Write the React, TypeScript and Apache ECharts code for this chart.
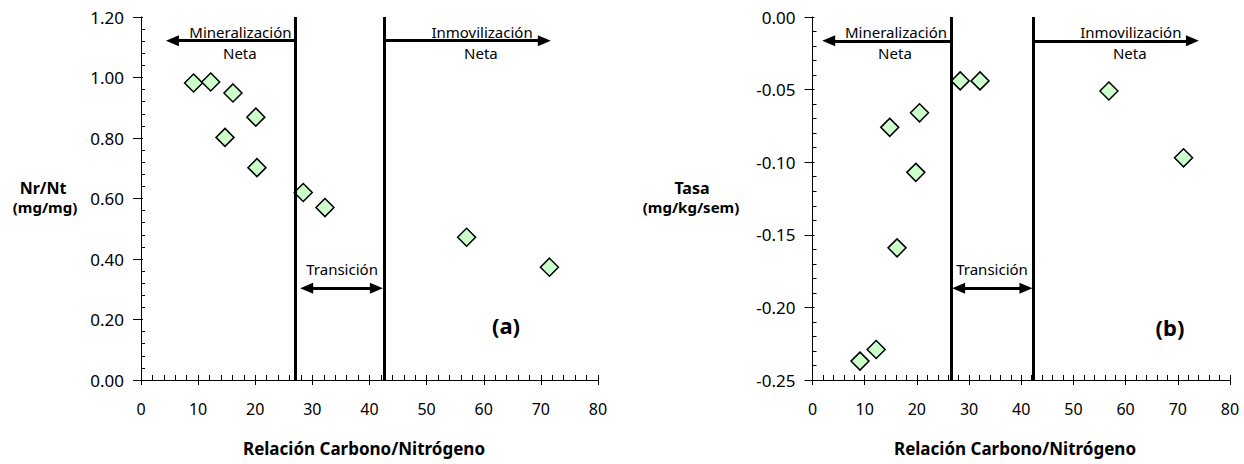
import React, { useEffect, useRef } from "react";
import * as echarts from "echarts";

// ---------- data ----------
const ratioA = [9.2, 12.2, 16.1, 20.1, 14.7, 20.3, 28.4, 32.2, 57.0, 71.5];
const nrNt = [0.982, 0.985, 0.949, 0.869, 0.802, 0.702, 0.62, 0.57, 0.472, 0.373];

const ratioB = [28.3, 32.1, 56.8, 20.5, 14.8, 19.8, 71.1, 16.2, 12.2, 9.1];
const tasa = [-0.044, -0.044, -0.051, -0.066, -0.076, -0.107, -0.097, -0.159, -0.229, -0.237];

const boundsA = [27, 42.5];
const boundsB = [26.5, 42.3];

const xRange = [0, 80, 10];
const yRangeA = [0, 1.2, 0.2];
const yRangeB = [-0.25, 0, 0.05];

// annotation texts: [text, x, y, fontSize, bold]
type Ann = [string, number, number, number, boolean];
const textsA: Ann[] = [
  ["Mineralización", 17.4, 1.151, 15, false],
  ["Neta", 17.3, 1.082, 15, false],
  ["Inmovilización", 59.7, 1.151, 15, false],
  ["Neta", 59.5, 1.082, 15, false],
  ["Transición", 35.2, 0.367, 15, false],
  ["(a)", 63.9, 0.182, 22, true],
];
const textsB: Ann[] = [
  ["Mineralización", 16.0, -0.0101, 15, false],
  ["Neta", 15.8, -0.0246, 15, false],
  ["Inmovilización", 61.0, -0.0101, 15, false],
  ["Neta", 60.8, -0.0246, 15, false],
  ["Transición", 34.4, -0.1737, 15, false],
  ["(b)", 68.5, -0.2136, 22, true],
];

// arrows: [x1, x2, y]
const arrowsA = { min: [5.5, 27, 1.1216], inm: [42.5, 70.6, 1.1216], tr: [29.0, 41.2, 0.303] };
const arrowsB = { min: [3.1, 26.5, -0.0164], inm: [42.3, 72.8, -0.0164], tr: [28.0, 40.9, -0.1868] };

const FONT = "'Noto Sans', 'Liberation Sans', sans-serif";

function xAxesFor(gridIndex: number) {
  const base = {
    type: "value" as const,
    gridIndex,
    min: xRange[0],
    max: xRange[1],
    interval: xRange[2],
    position: "bottom" as const,
    splitLine: { show: false },
  };
  return [
    {
      ...base,
      axisLine: { show: true, onZero: false, lineStyle: { color: "#000", width: 1 } },
      axisTick: { show: true, inside: false, length: 5, lineStyle: { color: "#000", width: 1 } },
      minorTick: { show: false },
      axisLabel: { color: "#000", fontFamily: FONT, fontSize: 16, margin: 21 },
    },
    {
      ...base,
      axisLine: { show: false, onZero: false },
      axisTick: { show: true, inside: true, length: 5, lineStyle: { color: "#000", width: 1 } },
      minorTick: { show: true, splitNumber: 5, length: 5, lineStyle: { color: "#000", width: 1 } },
      axisLabel: { show: false },
    },
  ];
}

function yAxesFor(gridIndex: number, r: number[]) {
  const base = {
    type: "value" as const,
    gridIndex,
    min: r[0],
    max: r[1],
    interval: r[2],
    position: "left" as const,
    splitLine: { show: false },
  };
  return [
    {
      ...base,
      axisLine: { show: true, onZero: false, lineStyle: { color: "#000", width: 1 } },
      axisTick: { show: true, inside: false, length: 8, lineStyle: { color: "#000", width: 1 } },
      minorTick: { show: false },
      axisLabel: {
        color: "#000",
        fontFamily: FONT,
        fontSize: 17,
        margin: 17,
        formatter: (v: number) => (Math.abs(v) < 1e-9 ? 0 : v).toFixed(2),
      },
    },
    {
      ...base,
      axisLine: { show: false, onZero: false },
      axisTick: { show: true, inside: true, length: 2, lineStyle: { color: "#000", width: 1 } },
      minorTick: { show: true, splitNumber: 5, length: 4, lineStyle: { color: "#000", width: 1 } },
      axisLabel: { show: false },
    },
  ];
}

const LINE = { color: "#000", width: 3, type: "solid" as const };
const HEAD: [number, number] = [11, 13];

function markLinesFor(bounds: number[], yr: number[], ar: any) {
  const v = (x: number) => [
    { coord: [x, yr[0]], symbol: "none", lineStyle: LINE },
    { coord: [x, yr[1]], symbol: "none" },
  ];
  const h = (a: number[], s1: string, s2: string) => [
    { coord: [a[0], a[2]], symbol: s1, symbolSize: HEAD, lineStyle: LINE },
    { coord: [a[1], a[2]], symbol: s2, symbolSize: HEAD },
  ];
  return {
    silent: true,
    animation: false,
    label: { show: false },
    lineStyle: LINE,
    data: [
      v(bounds[0]),
      v(bounds[1]),
      h(ar.min, "triangle", "none"),
      h(ar.inm, "none", "triangle"),
      h(ar.tr, "triangle", "triangle"),
    ],
  };
}

export default function App() {
  const ref = useRef<HTMLDivElement>(null);
  useEffect(() => {
    if (!ref.current) return;
    const chart = echarts.init(ref.current, undefined, { renderer: "svg" });
    const title = (text: string, x: number, y: number, size: number, bold = true) => ({
      type: "text",
      x,
      y,
      silent: true,
      z: 10,
      style: {
        text,
        align: "center",
        verticalAlign: "middle",
        fill: "#000",
        font: `${bold ? "bold " : ""}${size}px ${FONT}`,
      },
    });
    chart.setOption({
      animation: false,
      backgroundColor: "#fff",
      grid: [
        { left: 141, top: 17, width: 457, height: 363, containLabel: false },
        { left: 812.5, top: 17, width: 417.5, height: 363, containLabel: false },
      ],
      xAxis: [...xAxesFor(0), ...xAxesFor(1)],
      yAxis: [...yAxesFor(0, yRangeA), ...yAxesFor(1, yRangeB)],
      series: [
        {
          type: "scatter",
          xAxisIndex: 0,
          yAxisIndex: 0,
          symbol: "diamond",
          symbolSize: 18,
          itemStyle: { color: "#ccffcc", borderColor: "#000", borderWidth: 1.5, opacity: 1 },
          data: ratioA.map((x, i) => [x, nrNt[i]]),
          markLine: markLinesFor(boundsA, [yRangeA[0], yRangeA[1]], arrowsA),
          z: 3,
        },
        {
          type: "scatter",
          xAxisIndex: 2,
          yAxisIndex: 2,
          symbol: "diamond",
          symbolSize: 18,
          itemStyle: { color: "#ccffcc", borderColor: "#000", borderWidth: 1.5, opacity: 1 },
          data: ratioB.map((x, i) => [x, tasa[i]]),
          markLine: markLinesFor(boundsB, [yRangeB[0], yRangeB[1]], arrowsB),
          z: 3,
        },
      ],
    });
    const annots: any[] = [];
    const place = (list: Ann[], xAxisIndex: number, yAxisIndex: number) => {
      list.forEach((t) => {
        const p = chart.convertToPixel({ xAxisIndex, yAxisIndex } as any, [t[1], t[2]]) as number[];
        if (p) annots.push(title(t[0], p[0], p[1], t[3], t[4]));
      });
    };
    place(textsA, 0, 0);
    place(textsB, 2, 2);
    chart.setOption({
      graphic: [
        title("Nr/Nt", 43, 188, 16),
        title("(mg/mg)", 45, 207, 15),
        title("Tasa", 692, 188, 16),
        title("(mg/kg/sem)", 691, 207, 15),
        title("Relación Carbono/Nitrógeno", 364, 448, 17),
        title("Relación Carbono/Nitrógeno", 1015, 448, 17),
        ...annots,
      ],
    });
    return () => chart.dispose();
  }, []);
  return (
    <div
      ref={ref}
      style={{ position: "absolute", left: 0, top: 0, width: 1244, height: 464, background: "#fff" }}
    />
  );
}
